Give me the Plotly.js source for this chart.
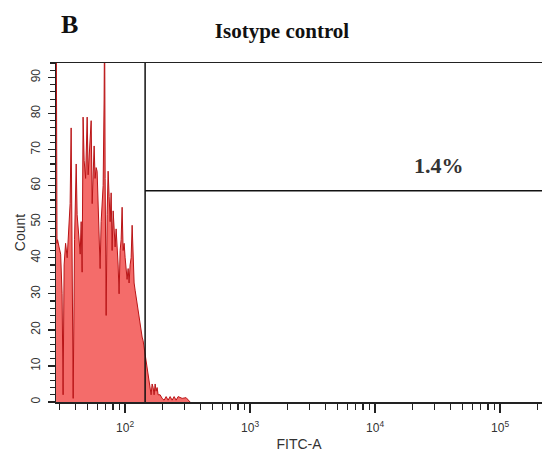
<!DOCTYPE html>
<html>
<head>
<meta charset="utf-8">
<script src="https://cdn.plot.ly/plotly-3.0.1.min.js"></script>
<style>html,body{margin:0;padding:0;background:#fff;}#chart{width:542px;height:465px;}</style>
</head>
<body>
<div id="chart"></div>
<script>
// FITC-A channel values (log axis) and event counts
const fitc = [28.0, 28.5, 28.8, 29.6, 30.5, 31.3, 31.9, 32.5, 33.4, 34.4, 35.3, 36.3, 37.0, 37.7, 38.4,
  39.4, 40.6, 41.3, 42.5, 43.7, 44.5, 45.3, 46.1, 47.0, 48.3, 49.7, 50.6, 52.0, 53.5, 54.5,
  55.5, 56.5, 57.5, 58.6, 59.7, 60.8, 61.9, 63.1, 64.3, 65.5, 66.7, 67.9, 68.5, 69.2, 70.5,
  71.8, 73.1, 74.5, 75.9, 77.3, 78.7, 80.2, 81.7, 83.2, 84.7, 86.3, 87.9, 89.5, 91.2, 92.9,
  94.6, 96.4, 98.2, 100, 101.9, 103.7, 105.7, 107.6, 109.6, 111.7, 113.8, 115.9, 118.0, 120.2,
  122.5, 124.7, 127.1, 129.4, 131.8, 134.3, 136.8, 139.3, 141.9, 144.5, 147.2, 150.0, 152.8,
  155.6, 158.5, 161.4, 164.4, 167.5, 170.6, 173.8, 177.0, 180.3, 183.7, 190.5, 197.7, 205.1,
  212.8, 220.8, 229.1, 237.7, 246.6, 255.9, 265.5, 285.8, 307.6, 331.1];
const counts = [130, 44, 45, 43, 41, 30, 2, 38, 44, 40, 48, 55, 76, 30, 1,
  45, 66, 52, 47, 41, 50, 36, 79, 67, 62, 79, 63, 72, 78, 55,
  62, 71, 62, 65, 64, 55, 48, 37, 50, 56, 60, 84, 110, 62, 24,
  52, 64, 57, 50, 58, 42, 53, 47, 43, 48, 44, 38, 30, 42, 45,
  54, 42, 44, 40, 37, 34, 37, 33, 38, 40, 49, 36, 33, 31,
  29, 27, 25, 23, 21, 19, 18, 17, 15, 13, 11, 9, 7,
  5, 4, 2, 5, 4, 2, 5, 3, 4, 2, 2, 1, 0.5,
  1.5, 0.5, 1.5, 0.5, 1.5, 0.5, 1.5, 1, 1.2, 0];

// Gate: marker boundary and region divider
const gateX = [144.5, 144.5];
const gateY = [0, 94];
const splitX = [144.5, 250000];
const splitY = [58.6, 58.6];

const xTickVals = [100, 1000, 10000, 100000];
const xTickText = ['10<sup>2</sup>', '10<sup>3</sup>', '10<sup>4</sup>', '10<sup>5</sup>'];
const xMinorVals = [30, 40, 50, 60, 70, 80, 90,
  200, 300, 400, 500, 600, 700, 800, 900,
  2000, 3000, 4000, 5000, 6000, 7000, 8000, 9000,
  20000, 30000, 40000, 50000, 60000, 70000, 80000, 90000, 200000];
const yTickVals = [0, 10, 20, 30, 40, 50, 60, 70, 80, 90];
const gateLabel = '1.4%';
const panelLabel = 'B';
const chartTitle = 'Isotype control';

const traces = [
  {x: fitc, y: counts, type: 'scatter', mode: 'lines', fill: 'tozeroy',
   fillcolor: 'rgb(244,108,106)', line: {color: 'rgb(185,20,22)', width: 1}, hoverinfo: 'skip'},
  {x: gateX, y: gateY, type: 'scatter', mode: 'lines', line: {color: '#111', width: 1.5}, hoverinfo: 'skip'},
  {x: splitX, y: splitY, type: 'scatter', mode: 'lines', line: {color: '#111', width: 1.5}, hoverinfo: 'skip'}
];

const layout = {
  width: 542, height: 465,
  margin: {l: 56, r: 0, t: 63, b: 63},
  paper_bgcolor: '#fff', plot_bgcolor: '#fff',
  showlegend: false,
  title: {text: '<b>' + chartTitle + '</b>', x: 282/542, xanchor: 'center', y: 1 - 31/465, yanchor: 'middle',
          font: {family: 'Liberation Serif', size: 21, color: '#111'}},
  xaxis: {type: 'log', range: [1.447, 5.335], showgrid: false, zeroline: false,
          showline: true, linecolor: '#222', linewidth: 1.5, mirror: true,
          ticks: 'outside', ticklen: 9, tickcolor: '#222', tickwidth: 1.3,
          tickvals: xTickVals, ticktext: xTickText, ticklabelstandoff: 5,
          tickfont: {family: 'Liberation Sans', size: 12, color: '#333'},
          minor: {tickmode: 'array', tickvals: xMinorVals, ticks: 'outside', ticklen: 6, tickcolor: '#222', tickwidth: 1.3, showgrid: false},
          title: {text: 'FITC-A', standoff: 5, font: {family: 'Liberation Sans', size: 14, color: '#333'}}},
  yaxis: {range: [0, 94], showgrid: false, zeroline: false,
          showline: true, linecolor: '#222', linewidth: 1.5, mirror: false,
          ticks: 'outside', ticklen: 7, tickcolor: '#222', tickwidth: 1.3,
          tickvals: yTickVals, tickangle: -90, ticklabelstandoff: 3,
          tickfont: {family: 'Liberation Sans', size: 12, color: '#333'},
          minor: {dtick: 2, ticks: 'outside', ticklen: 5, tickcolor: '#222', tickwidth: 1.1, showgrid: false},
          title: {text: 'Count', standoff: 0, font: {family: 'Liberation Sans', size: 14, color: '#333'}}},
  annotations: [
    {text: '<b>' + gateLabel + '</b>', xref: 'paper', yref: 'paper', x: 0.788, y: 0.699,
     xanchor: 'center', yanchor: 'middle', showarrow: false,
     font: {family: 'Liberation Serif', size: 22, color: '#333'}},
    {text: '<b>' + panelLabel + '</b>', xref: 'paper', yref: 'paper', x: (69-56)/486, y: (402-24)/339,
     xanchor: 'center', yanchor: 'middle', showarrow: false,
     font: {family: 'Liberation Serif', size: 26, color: '#111'}}
  ]
};

Plotly.newPlot('chart', traces, layout, {displayModeBar: false, staticPlot: true});
</script>
</body>
</html>
